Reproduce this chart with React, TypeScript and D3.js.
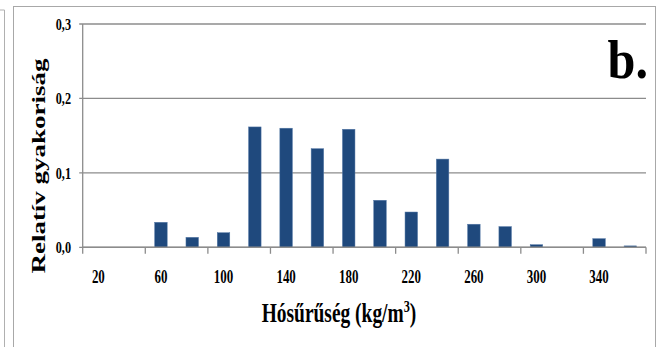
import React from "react";
import * as d3 from "d3";

const categories = ["20","40","60","80","100","120","140","160","180","200","220","240","260","280","300","320","340","360"];
const values = [0, 0, 0.0336, 0.0134, 0.0196, 0.1617, 0.16, 0.1325, 0.1586, 0.0632, 0.0474, 0.1185, 0.031, 0.0278, 0.0035, 0, 0.0116, 0.0019];
const yTicks = [0, 0.1, 0.2, 0.3];
const yTickLabels = ["0,0", "0,1", "0,2", "0,3"];
const xLabelCategories = ["20","60","100","140","180","220","260","300","340"];

const FONT = "'Liberation Serif', 'Times New Roman', serif";

export default function App() {
  const W = 661, H = 347;
  const left = 82.7, right = 646, top = 24, bottom = 247.3;
  const x = d3.scaleBand<string>().domain(categories).range([left, right]).paddingInner(0.6).paddingOuter(0.3);
  const y = d3.scaleLinear().domain([0, 0.3]).range([bottom, top]);
  const step = x.step();
  const xTickPos = d3.range(0, categories.length + 1, 2).map((i) => left + i * step);
  const gridColor = "#8c8c8c";
  return (
    <svg width={W} height={H} style={{ position: "absolute", left: 0, top: 0, background: "#fff" }}>
      {/* previous panel edge */}
      <line x1={0} y1={10} x2={4.5} y2={10} stroke="#b0b0b0" />
      <line x1={4.5} y1={10} x2={4.5} y2={H} stroke="#b0b0b0" />
      {/* chart border */}
      <rect x={13.5} y={6.5} width={642} height={H + 10} fill="#fff" stroke="#a8a8a8" />
      {/* gridlines */}
      {yTicks.map((t, i) => (
        <g key={"g" + i}>
          <line x1={left - 3.5} x2={i === 0 ? right : right} y1={y(t)} y2={y(t)} stroke={gridColor} strokeWidth={1.3} />
          <g transform={`translate(71,${y(t) + 5.8}) scale(0.72,1)`}>
            <text textAnchor="end" fontFamily={FONT} fontWeight="bold" fontSize={17} fill="#000">{yTickLabels[i]}</text>
          </g>
        </g>
      ))}
      {/* y axis */}
      <line x1={left} x2={left} y1={top} y2={bottom} stroke={gridColor} strokeWidth={1.3} />
      {/* bars */}
      {categories.map((c, i) => (
        values[i] > 0 ? (
          <rect key={"b" + c} x={x(c)!} width={x.bandwidth()} y={y(values[i])} height={bottom - y(values[i])}
            fill="#1F497D" stroke="#5478a6" strokeWidth={0.5} />
        ) : null
      ))}
      {/* x axis */}
      <line x1={left} x2={right} y1={bottom} y2={bottom} stroke={gridColor} strokeWidth={1.5} />
      {xTickPos.map((p, i) => (
        <line key={"t" + i} x1={p} x2={p} y1={bottom} y2={bottom + 6.5} stroke={gridColor} strokeWidth={1.3} />
      ))}
      {xLabelCategories.map((c) => (
        <g key={"l" + c} transform={`translate(${x(c)! + x.bandwidth() / 2},282.7) scale(0.72,1)`}>
          <text textAnchor="middle" fontFamily={FONT} fontWeight="bold" fontSize={18} fill="#000">{c}</text>
        </g>
      ))}
      {/* x title */}
      <g transform="translate(339,322.3) scale(0.72,1)">
        <text textAnchor="middle" fontFamily={FONT} fontWeight="bold" fontSize={27} fill="#000">
          Hósűrűség (kg/m<tspan fontSize={17} dy={-10}>3</tspan><tspan dy={10}>)</tspan>
        </text>
      </g>
      {/* y title */}
      <g transform="translate(45,166) scale(0.72,1) rotate(-90)">
        <text textAnchor="middle" fontFamily={FONT} fontWeight="bold" fontSize={27} fill="#000">Relatív gyakoriság</text>
      </g>
      {/* panel label */}
      <g transform="translate(648,78.3) scale(0.93,1)">
        <text textAnchor="end" fontFamily={FONT} fontWeight="bold" fontSize={54} fill="#000">b.</text>
      </g>
    </svg>
  );
}
